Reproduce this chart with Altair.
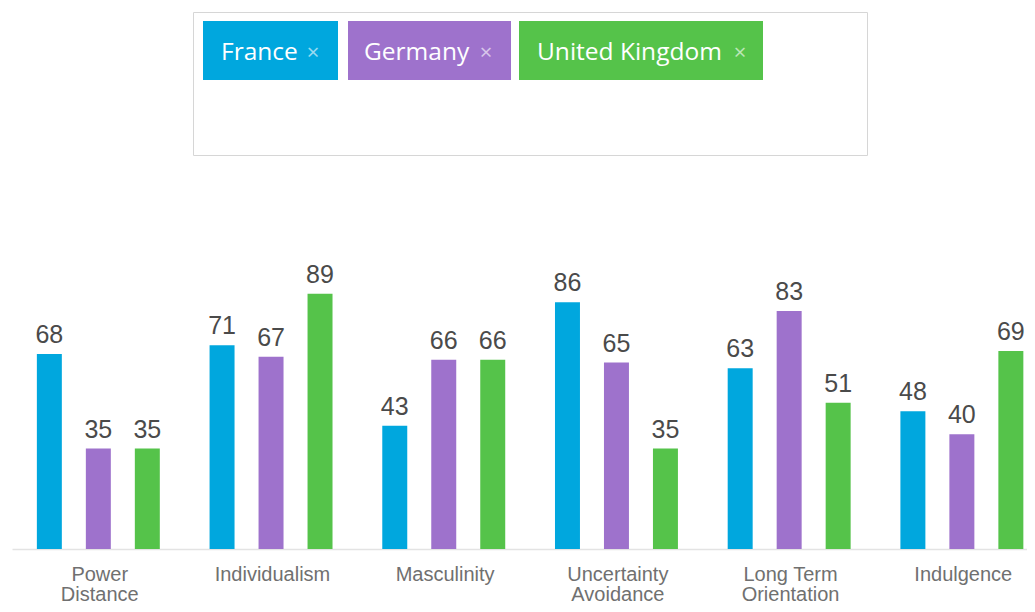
import altair as alt
import pandas as pd

dimensions = ["Power Distance", "Individualism", "Masculinity",
              "Uncertainty Avoidance", "Long Term Orientation", "Indulgence"]
countries = ["France", "Germany", "United Kingdom"]
france = [68, 71, 43, 86, 63, 48]
germany = [35, 67, 66, 65, 83, 40]
uk = [35, 89, 66, 35, 51, 69]
colors = ["#00a7de", "#9e72cc", "#55c34a"]

rows = []
for c, vals in zip(countries, [france, germany, uk]):
    for d, v in zip(dimensions, vals):
        rows.append({"dimension": d, "country": c, "value": v})
df = pd.DataFrame(rows)

label_expr = ("indexof(datum.label, ' ') < 0 ? datum.label : "
              "[substring(datum.label, 0, lastindexof(datum.label, ' ')), "
              "substring(datum.label, lastindexof(datum.label, ' ') + 1)]")

x_enc = alt.X("dimension:N", sort=dimensions, title=None,
              scale=alt.Scale(paddingInner=0.123, paddingOuter=0, align=0),
              axis=alt.Axis(labelAngle=0, labelExpr=label_expr, ticks=False,
                            domainColor="#e3e3e3", domainWidth=1.5,
                            labelColor="#707070", labelFont="Liberation Sans",
                            labelFontSize=20, labelPadding=15, labelLineHeight=20,
                            labelBaseline="top", grid=False, labelAlign="center",
                            labelOffset=12))
xo_enc = alt.XOffset("country:N", sort=countries,
                     scale=alt.Scale(paddingInner=0.49, paddingOuter=0.291, align=0.872))
y_enc = alt.Y("value:Q", scale=alt.Scale(domain=[0, 188.6], nice=False, zero=True),
              axis=None)
color_enc = alt.Color("country:N", scale=alt.Scale(domain=countries, range=colors),
                      legend=None)

base = alt.Chart(df)
bars = base.mark_bar().encode(x=x_enc, xOffset=xo_enc, y=y_enc, color=color_enc)
labels = base.mark_text(baseline="alphabetic", dy=-11, fontSize=25,
                        font="Liberation Sans", color="#4a4a4a").encode(
    x=x_enc, xOffset=xo_enc, y=y_enc, text="value:Q")

one = pd.DataFrame({"k": [0]})
box = alt.Chart(one).mark_rect(fill="white", stroke="#d6d6d6", strokeWidth=1).encode(
    x=alt.value(181.5), x2=alt.value(855.5), y=alt.value(4.5), y2=alt.value(147.5))

tag_layers = []
tag_x = [(191, 326), (336, 499), (507, 751)]
name_x = [209, 352, 525]
cross_x = [301, 474, 728]
for c, col, (a, b), nx, cx in zip(countries, colors, tag_x, name_x, cross_x):
    d1 = pd.DataFrame({"name": [c], "cross": ["×"]})
    ch = alt.Chart(d1)
    tag_layers.append(ch.mark_rect(fill=col).encode(
        x=alt.value(a), x2=alt.value(b), y=alt.value(13), y2=alt.value(72)))
    tag_layers.append(ch.mark_text(align="left", baseline="middle", font="Open Sans",
                                   fontSize=24.5, color="white").encode(
        x=alt.value(nx), y=alt.value(45), text="name:N"))
    tag_layers.append(ch.mark_text(align="center", baseline="middle", font="Open Sans",
                                   fontSize=22, color="white", opacity=0.6).encode(
        x=alt.value(cx), y=alt.value(45), text="cross:N"))

chart = alt.layer(bars, labels, box, *tag_layers).properties(
    width=1015, height=541,
    autosize=alt.AutoSizeParams(type="none"),
    padding={"left": 4, "top": 0, "right": 0, "bottom": 55},
).configure_view(stroke=None)

chart.save("out.html", embed_options={"renderer": "svg", "actions": False})
